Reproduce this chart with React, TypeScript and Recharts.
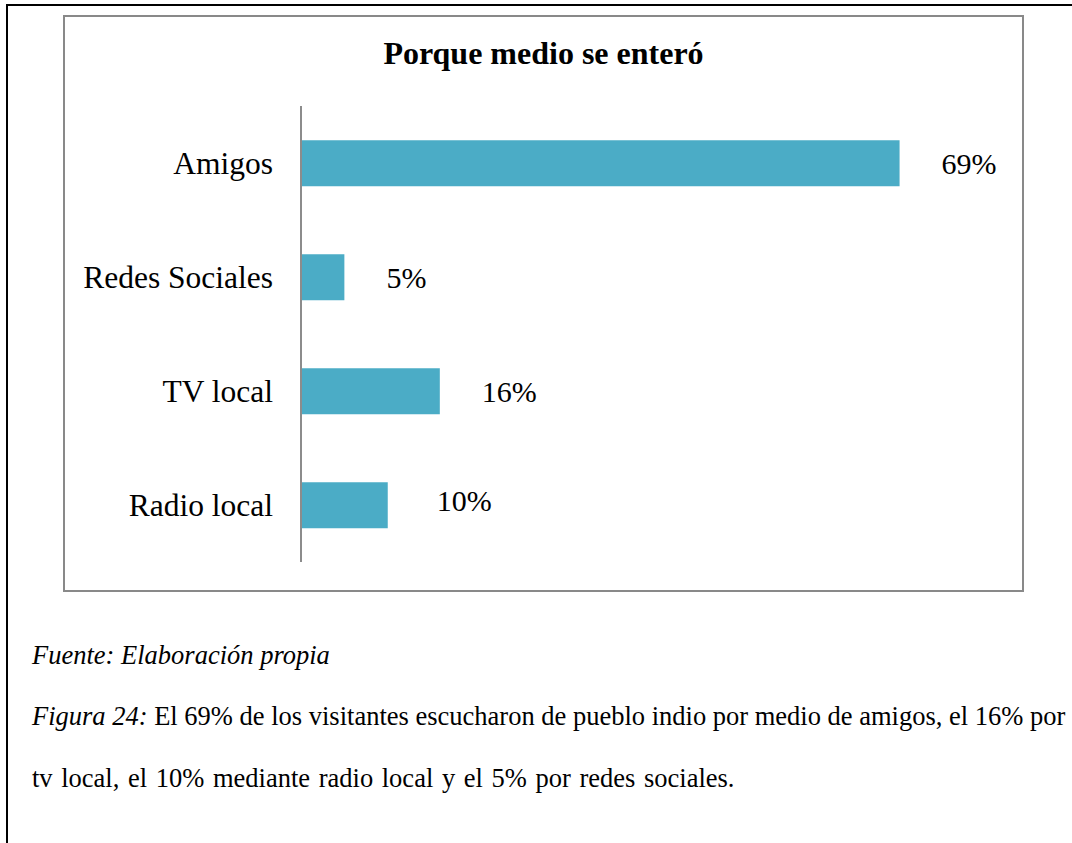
import React from "react";
import { Bar, BarChart, LabelList, XAxis, YAxis } from "recharts";

const categories = ["Amigos", "Redes Sociales", "TV local", "Radio local"];
const percents = [69, 5, 16, 10];

const data = categories.map((name, i) => ({ name, value: percents[i] }));

const serif = '"Liberation Serif", "Times New Roman", serif';
const barColor = "#4BACC6";
const frameGray = "#898989";

// the "Radio local" label was dragged a little in the original
const renderValueLabel = (props: any) => {
  const { x, y, width, height, value, index } = props;
  const nudgeX = index === 3 ? 7 : 0;
  const nudgeY = index === 3 ? -5 : 0;
  return (
    <text
      x={Number(x) + Number(width) + 42 + nudgeX}
      y={Number(y) + Number(height) / 2 + nudgeY}
      dominantBaseline="central"
      textAnchor="start"
      fontSize={30}
      fontFamily={serif}
      fill="#000"
    >
      {`${value}%`}
    </text>
  );
};

const captionBase: React.CSSProperties = {
  position: "absolute",
  left: 32,
  fontSize: 26.5,
  lineHeight: "26.5px",
  whiteSpace: "nowrap",
};

export default function App() {
  return (
    <div
      style={{
        position: "absolute",
        left: 0,
        top: 0,
        width: 1072,
        height: 843,
        overflow: "hidden",
        background: "#fff",
        fontFamily: serif,
        color: "#000",
      }}
    >
      {/* page frame */}
      <div
        style={{
          position: "absolute",
          left: 6,
          top: 4,
          width: 1200,
          height: 1000,
          borderTop: "2px solid #000",
          borderLeft: "2px solid #000",
        }}
      />

      {/* chart box */}
      <div
        style={{
          position: "absolute",
          left: 63,
          top: 15,
          width: 957,
          height: 573,
          border: `2px solid ${frameGray}`,
        }}
      >
        <BarChart
          width={957}
          height={573}
          data={data}
          layout="vertical"
          barCategoryGap="30%"
          margin={{ top: 89, right: 27, bottom: 28, left: 36 }}
        >
          <XAxis type="number" domain={[0, 80]} hide />
          <YAxis
            type="category"
            dataKey="name"
            width={200}
            axisLine={{ stroke: "#8c8c8c", strokeWidth: 2 }}
            tickLine={false}
            tickSize={0}
            tickMargin={28}
            tick={{ fontSize: 31.5, fill: "#000", fontFamily: serif }}
          />
          <Bar dataKey="value" fill={barColor} isAnimationActive={false}>
            <LabelList dataKey="value" content={renderValueLabel} />
          </Bar>
        </BarChart>
      </div>

      <div
        style={{
          position: "absolute",
          left: 65,
          top: 37,
          width: 957,
          textAlign: "center",
          fontSize: 32,
          lineHeight: "32px",
          fontWeight: "bold",
        }}
      >
        Porque medio se enteró
      </div>

      {/* caption */}
      <div style={{ ...captionBase, top: 642, fontStyle: "italic" }}>
        Fuente: Elaboración propia
      </div>
      <div
        style={{
          ...captionBase,
          top: 703,
          width: 1030,
          textAlign: "justify",
          textAlignLast: "justify",
        }}
      >
        <i>Figura 24:</i> El 69% de los visitantes escucharon de pueblo indio por
        medio de amigos, el 16% por
      </div>
      <div style={{ ...captionBase, top: 765, wordSpacing: 2 }}>
        tv local, el 10% mediante radio local y el 5% por redes sociales.
      </div>
    </div>
  );
}
